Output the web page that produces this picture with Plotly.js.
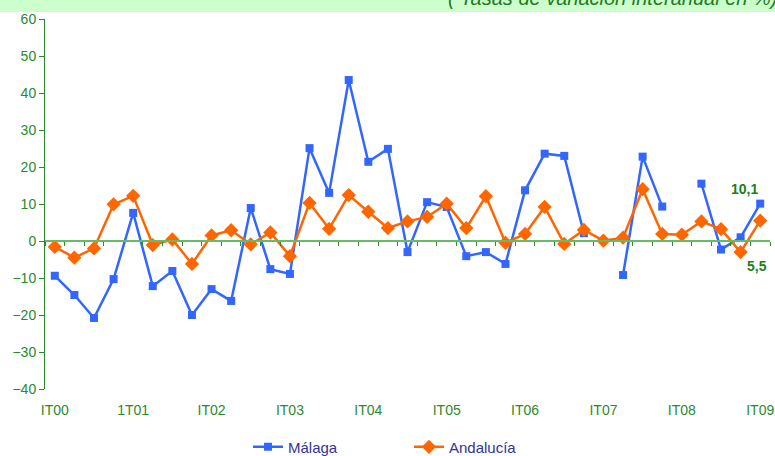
<!DOCTYPE html>
<html>
<head>
<meta charset="utf-8">
<script src="https://cdn.plot.ly/plotly-3.0.1.min.js"></script>
<style>
  html, body { margin: 0; padding: 0; background: #ffffff; }
  #chart { width: 775px; height: 456px; }
</style>
</head>
<body>
<div id="chart"></div>
<script>
// Quarterly year-on-year change (%), 1st quarter 2000 to 1st quarter 2009
const quarters = [
  'IT00','IIT00','IIIT00','IVT00',
  '1T01','IIT01','IIIT01','IVT01',
  'IT02','IIT02','IIIT02','IVT02',
  'IT03','IIT03','IIIT03','IVT03',
  'IT04','IIT04','IIIT04','IVT04',
  'IT05','IIT05','IIIT05','IVT05',
  'IT06','IIT06','IIIT06','IVT06',
  'IT07','IIT07','IIIT07','IVT07',
  'IT08','IIT08','IIIT08','IVT08',
  'IT09'
];

const malaga = [
  -9.4, -14.6, -20.8, -10.3,
   7.6, -12.2,  -8.1, -20.0,
 -13.0, -16.2,   8.9,  -7.6,
  -8.9,  25.1,  13.0,  43.5,
  21.4,  24.9,  -3.0,  10.5,
   9.2,  -4.1,  -3.0,  -6.2,
  13.7,  23.6,  23.0,   2.1,
  null,  -9.2,  22.8,   9.3,
  null,  15.5,  -2.3,   1.0,
  10.1
];

const andalucia = [
  -1.6, -4.5, -2.0,  9.9,
  12.2, -1.1,  0.4, -6.2,
   1.5,  2.9, -0.9,  2.3,
  -4.1, 10.3,  3.3, 12.4,
   7.9,  3.5,  5.3,  6.5,
  10.1,  3.5, 12.1, -0.5,
   1.9,  9.2, -0.8,  3.0,
   0.1,  0.9, 14.0,  1.9,
   1.7,  5.3,  3.2, -3.0,
   5.5
];

const tickLabels = ['IT00','1T01','IT02','IT03','IT04','IT05','IT06','IT07','IT08','IT09'];

const idx = quarters.map((q, i) => i);
const labelPos = tickLabels.map((t, k) => k * 4);
const boundaryTicks = [];
for (let i = 0; i <= quarters.length; i++) boundaryTicks.push(i - 0.5);

const fmt = v => v.toFixed(1).replace('.', ',');
const last = quarters.length - 1;

const green = '#2b8a2b';
const font = 'Liberation Sans, Arial, sans-serif';

const traces = [
  {
    name: 'Málaga',
    x: idx, y: malaga, text: quarters,
    type: 'scatter', mode: 'lines+markers',
    line: { color: '#3366ff', width: 2.5 },
    marker: { symbol: 'square', size: 8, color: '#3366ff' },
    connectgaps: false,
    hoverinfo: 'text+y'
  },
  {
    name: 'Andalucía',
    x: idx, y: andalucia, text: quarters,
    type: 'scatter', mode: 'lines+markers',
    line: { color: '#ff6600', width: 2.5 },
    marker: { symbol: 'diamond', size: 11, color: '#ff6600' },
    hoverinfo: 'text+y'
  },
  {
    // carries the axis drawn along the zero line
    x: [0], y: [0], xaxis: 'x2', mode: 'markers',
    marker: { opacity: 0 }, showlegend: false, hoverinfo: 'skip'
  }
];

const layout = {
  width: 775, height: 456,
  margin: { l: 45, r: 5, t: 19, b: 67, autoexpand: false },
  paper_bgcolor: '#ffffff',
  plot_bgcolor: '#ffffff',
  showlegend: true,
  legend: {
    orientation: 'h',
    x: 0.28, xanchor: 'left',
    y: -0.157, yanchor: 'middle',
    entrywidth: 116,
    font: { family: font, size: 15, color: '#333399' },
    itemwidth: 30
  },
  xaxis: {
    range: [-0.5, last + 0.5],
    tickmode: 'array', tickvals: labelPos, ticktext: tickLabels,
    ticks: 'outside', ticklen: 8, tickcolor: 'rgba(0,0,0,0)',
    showline: false, showgrid: false, zeroline: false,
    tickfont: { family: font, size: 14, color: green }
  },
  xaxis2: {
    overlaying: 'x', anchor: 'free', position: 0.4, side: 'bottom',
    range: [-0.5, last + 0.5],
    tickmode: 'array', tickvals: boundaryTicks,
    ticks: 'outside', ticklen: 4, tickwidth: 1, tickcolor: '#2b8a2b',
    showticklabels: false,
    showline: true, linecolor: '#66bb66', linewidth: 2,
    showgrid: false, zeroline: false
  },
  yaxis: {
    range: [-40, 60], dtick: 10,
    ticks: 'outside', ticklen: 5, tickcolor: green,
    showline: true, linecolor: green, linewidth: 1,
    showgrid: false, zeroline: false,
    tickfont: { family: font, size: 14, color: green }
  },
  shapes: [
    {
      type: 'rect', xref: 'paper', yref: 'paper',
      x0: -0.07, x1: 1.01, y0: 1 + 7 / 370, y1: 1.1,
      fillcolor: '#ccffcc', line: { width: 0 }, layer: 'below'
    }
  ],
  annotations: [
    {
      xref: 'paper', yref: 'paper', x: 1, y: 1,
      xanchor: 'right', yanchor: 'middle', xshift: 9, yshift: 21,
      text: '( Tasas de variación interanual en %)', showarrow: false,
      font: { family: font, size: 20, color: '#1f7a1f', style: 'italic' }
    },
    {
      x: last, y: malaga[last], xref: 'x', yref: 'y',
      text: '<b>' + fmt(malaga[last]) + '</b>', showarrow: false,
      xshift: -16, yshift: 15,
      font: { family: font, size: 14, color: '#1a801a' }
    },
    {
      x: last, y: andalucia[last], xref: 'x', yref: 'y',
      text: '<b>' + fmt(andalucia[last]) + '</b>', showarrow: false,
      xshift: -3, yshift: -45,
      font: { family: font, size: 14, color: '#1a801a' }
    }
  ]
};

Plotly.newPlot('chart', traces, layout, { displayModeBar: false, staticPlot: true });
</script>
</body>
</html>
